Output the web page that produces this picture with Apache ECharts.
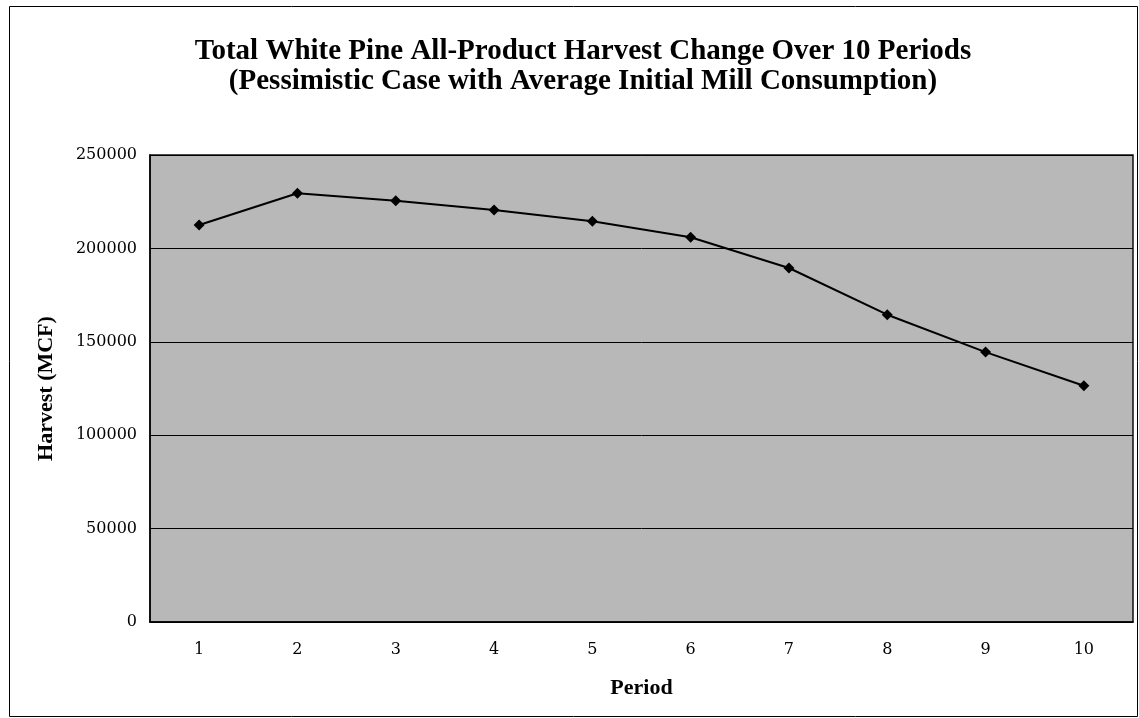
<!DOCTYPE html>
<html><head><meta charset="utf-8">
<script src="https://cdn.jsdelivr.net/npm/echarts@6/dist/echarts.min.js"></script>
<style>html,body{margin:0;padding:0;background:#fff}#c{width:1139px;height:718px}</style>
</head><body><div id="c"></div>
<script>
const titleLines = ['Total White Pine All-Product Harvest Change Over 10 Periods', '(Pessimistic Case with Average Initial Mill Consumption)'];
const periods = ['1','2','3','4','5','6','7','8','9','10'];
const harvest = [212500, 229500, 225500, 220500, 214500, 206000, 189500, 164500, 144500, 126500];
const yTicks = [0, 50000, 100000, 150000, 200000, 250000];
const xName = 'Period';
const yName = 'Harvest (MCF)';

const chart = echarts.init(document.getElementById('c'), null, {renderer: 'canvas'});
const serif = '"Liberation Serif", "DejaVu Serif", serif';
const tickFont = '"DejaVu Serif", serif';
chart.setOption({
  backgroundColor: '#ffffff',
  animation: false,
  title: {
    text: titleLines.join('\n'),
    left: 578, top: 32, textAlign: 'center',
    textStyle: {fontFamily: serif, fontWeight: 'bold', fontSize: 29, color: '#000', lineHeight: 30}
  },
  graphic: [{
    type: 'rect', shape: {x: 9.5, y: 6.5, width: 1128, height: 710},
    style: {fill: 'none', stroke: '#000', lineWidth: 1}, z: 100
  }],
  grid: {left: 150, right: 6, top: 155, bottom: 96, show: true, backgroundColor: '#b8b8b8', borderColor: '#111', borderWidth: 1.5},
  xAxis: {
    type: 'category', data: periods, boundaryGap: true,
    name: xName, nameLocation: 'middle', nameGap: 55,
    nameTextStyle: {fontFamily: serif, fontWeight: 'bold', fontSize: 22, color: '#000'},
    axisLine: {lineStyle: {color: '#000', width: 1.5}},
    axisTick: {inside: true, length: 5, lineStyle: {color: '#000'}},
    axisLabel: {fontFamily: tickFont, fontSize: 16, color: '#000', margin: 20,
      formatter: v => v}
  },
  yAxis: {
    type: 'value', min: yTicks[0], max: yTicks[yTicks.length - 1], interval: 50000,
    name: yName, nameLocation: 'middle', nameGap: 93, nameRotate: 90,
    nameTextStyle: {fontFamily: serif, fontWeight: 'bold', fontSize: 22, color: '#000'},
    axisLine: {show: true, lineStyle: {color: '#000', width: 1.5}},
    axisTick: {show: false},
    axisLabel: {fontFamily: tickFont, fontSize: 16, color: '#000', margin: 13,
      formatter: v => String(v)},
    splitLine: {show: true, lineStyle: {color: '#000', width: 1}}
  },
  series: [{
    type: 'line', data: harvest,
    symbol: 'diamond', symbolSize: 11,
    lineStyle: {color: '#000', width: 2},
    itemStyle: {color: '#000'}
  }]
});
</script></body></html>
